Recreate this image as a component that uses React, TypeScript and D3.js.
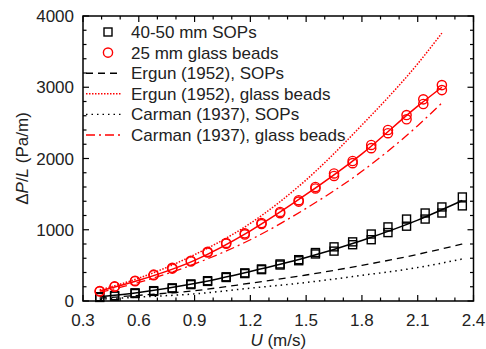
import * as d3 from "d3";

// measured data, SOPs (two replicate runs)
const sopU = [0.39, 0.47, 0.58, 0.68, 0.78, 0.88, 0.97, 1.07, 1.17, 1.26, 1.36, 1.46, 1.55, 1.65, 1.75, 1.85, 1.94, 2.04, 2.14, 2.23, 2.34];
const sopRunA = [60, 75, 115, 145, 185, 240, 285, 340, 395, 450, 520, 580, 680, 760, 830, 940, 1040, 1150, 1235, 1320, 1460];
const sopRunB = [50, 68, 105, 135, 175, 230, 275, 330, 385, 440, 505, 565, 660, 700, 790, 860, 960, 1050, 1150, 1235, 1335];

// measured data, glass beads (two replicate runs)
const beadU = [0.39, 0.47, 0.58, 0.68, 0.78, 0.88, 0.97, 1.07, 1.17, 1.26, 1.36, 1.46, 1.55, 1.65, 1.75, 1.85, 1.94, 2.04, 2.13, 2.23];
const beadRunA = [140, 205, 285, 370, 465, 565, 690, 815, 950, 1095, 1250, 1415, 1600, 1790, 1965, 2190, 2400, 2610, 2830, 3030];
const beadRunB = [135, 200, 278, 362, 455, 555, 680, 805, 935, 1080, 1232, 1395, 1580, 1755, 1935, 2145, 2355, 2550, 2765, 2960];

// fitted / model curves, read at a few velocities
const sopCurveU = [0.39, 0.6, 0.9, 1.2, 1.5, 1.8, 2.1, 2.34];
const sopFit = [60, 120, 245, 415, 610, 850, 1135, 1410];
const ergunSop = [40, 80, 145, 250, 365, 500, 655, 800];
const carmanSop = [25, 55, 100, 180, 260, 360, 470, 590];

const beadCurveU = [0.39, 0.6, 0.9, 1.2, 1.5, 1.8, 2.1, 2.23];
const beadFit = [140, 290, 570, 985, 1495, 2065, 2735, 3000];
const ergunBead = [155, 320, 650, 1090, 1700, 2470, 3330, 3760];
const carmanBead = [120, 260, 520, 860, 1300, 1820, 2460, 2780];

const xTicks = [0.3, 0.6, 0.9, 1.2, 1.5, 1.8, 2.1, 2.4];
const yTicks = [0, 1000, 2000, 3000, 4000];

const legendItems = [
  { label: "40-50 mm SOPs", kind: "square" },
  { label: "25 mm glass beads", kind: "circle" },
  { label: "Ergun (1952), SOPs", kind: "line", color: "#000", dash: "7,5" },
  { label: "Ergun (1952), glass beads", kind: "line", color: "#f00", dash: "1.5,1.5" },
  { label: "Carman (1937), SOPs", kind: "line", color: "#000", dash: "1.5,4" },
  { label: "Carman (1937), glass beads", kind: "line", color: "#f00", dash: "9,4,2,4" },
];

const W = 486, H = 349;
const m = { left: 83, right: 12.5, top: 16, bottom: 48 };

export default function App() {
  const x = d3.scaleLinear().domain([0.3, 2.4]).range([m.left, W - m.right]);
  const y = d3.scaleLinear().domain([0, 4000]).range([H - m.bottom, m.top]);
  const font = "'Liberation Sans', Arial, sans-serif";

  const line = (us: number[], vs: number[]) =>
    d3.line<number>().x((_, i) => x(us[i])).y((v) => y(v)).curve(d3.curveMonotoneX)(vs) || "";

  const xMinor = d3.range(0.3, 2.401, 0.1);
  const yMinor = d3.range(0, 4001, 200);
  const x0 = x(0.3), x1 = x(2.4), y0 = y(0), y1 = y(4000);

  const square = (cx: number, cy: number, k: string) => (
    <rect key={k} x={cx - 4} y={cy - 4} width={8} height={8} fill="none" stroke="#000" strokeWidth={1.4} />
  );
  const circle = (cx: number, cy: number, k: string) => (
    <circle key={k} cx={cx} cy={cy} r={4.6} fill="none" stroke="#f00" strokeWidth={1.4} />
  );

  return (
    <svg width={W} height={H} style={{ position: "absolute", left: 0, top: 0, background: "#fff" }} fontFamily={font}>
      {/* model curves */}
      <path d={line(sopCurveU, ergunSop)} fill="none" stroke="#000" strokeWidth={1.3} strokeDasharray="7,5" />
      <path d={line(sopCurveU, carmanSop)} fill="none" stroke="#000" strokeWidth={1.5} strokeDasharray="1.5,4" />
      <path d={line(beadCurveU, ergunBead)} fill="none" stroke="#f00" strokeWidth={1.5} strokeDasharray="1.5,1.5" />
      <path d={line(beadCurveU, carmanBead)} fill="none" stroke="#f00" strokeWidth={1.3} strokeDasharray="9,4,2,4" />
      {/* fits */}
      <path d={line(sopCurveU, sopFit)} fill="none" stroke="#000" strokeWidth={1.5} />
      <path d={line(beadCurveU, beadFit)} fill="none" stroke="#f00" strokeWidth={1.5} />

      {/* data */}
      {sopU.map((u, i) => square(x(u), y(sopRunA[i]), "sa" + i))}
      {sopU.map((u, i) => square(x(u), y(sopRunB[i]), "sb" + i))}
      {beadU.map((u, i) => circle(x(u), y(beadRunA[i]), "ba" + i))}
      {beadU.map((u, i) => circle(x(u), y(beadRunB[i]), "bb" + i))}

      {/* frame and ticks */}
      <rect x={x0} y={y1} width={x1 - x0} height={y0 - y1} fill="none" stroke="#000" strokeWidth={1.5} />
      {xMinor.map((t, i) => {
        const major = i % 3 === 0;
        const len = major ? 6 : 3.5;
        return (
          <g key={"xt" + i} stroke="#000" strokeWidth={1.2}>
            <line x1={x(t)} x2={x(t)} y1={y0} y2={y0 - len} />
            <line x1={x(t)} x2={x(t)} y1={y1} y2={y1 + len} />
          </g>
        );
      })}
      {yMinor.map((t, i) => {
        const major = i % 5 === 0;
        const len = major ? 6 : 3.5;
        return (
          <g key={"yt" + i} stroke="#000" strokeWidth={1.2}>
            <line x1={x0} x2={x0 + len} y1={y(t)} y2={y(t)} />
            <line x1={x1} x2={x1 - len} y1={y(t)} y2={y(t)} />
          </g>
        );
      })}
      {xTicks.map((t) => (
        <text key={"xl" + t} x={x(t)} y={y0 + 25} textAnchor="middle" fontSize={17} fill="#222">
          {t.toFixed(1)}
        </text>
      ))}
      {yTicks.map((t) => (
        <text key={"yl" + t} x={x0 - 9} y={y(t) + 6} textAnchor="end" fontSize={17} fill="#222">
          {t}
        </text>
      ))}

      {/* axis titles */}
      <text x={(x0 + x1) / 2} y={346} textAnchor="middle" fontSize={17} fill="#222">
        <tspan fontStyle="italic">U</tspan> (m/s)
      </text>
      <text transform={`translate(28,${(y0 + y1) / 2}) rotate(-90)`} textAnchor="middle" fontSize={17} fill="#222">
        Δ<tspan fontStyle="italic">P</tspan>/<tspan fontStyle="italic">L</tspan> (Pa/m)
      </text>

      {/* legend */}
      {legendItems.map((it, i) => {
        const ly = 32 + i * 20.6;
        return (
          <g key={"lg" + i}>
            {it.kind === "square" && square(108, ly, "ls")}
            {it.kind === "circle" && circle(108, ly, "lc")}
            {it.kind === "line" && (
              <line x1={86} x2={121} y1={ly} y2={ly} stroke={it.color} strokeWidth={1.4} strokeDasharray={it.dash} />
            )}
            <text x={131} y={ly + 6} fontSize={17} fill="#222">
              {it.label}
            </text>
          </g>
        );
      })}
    </svg>
  );
}
